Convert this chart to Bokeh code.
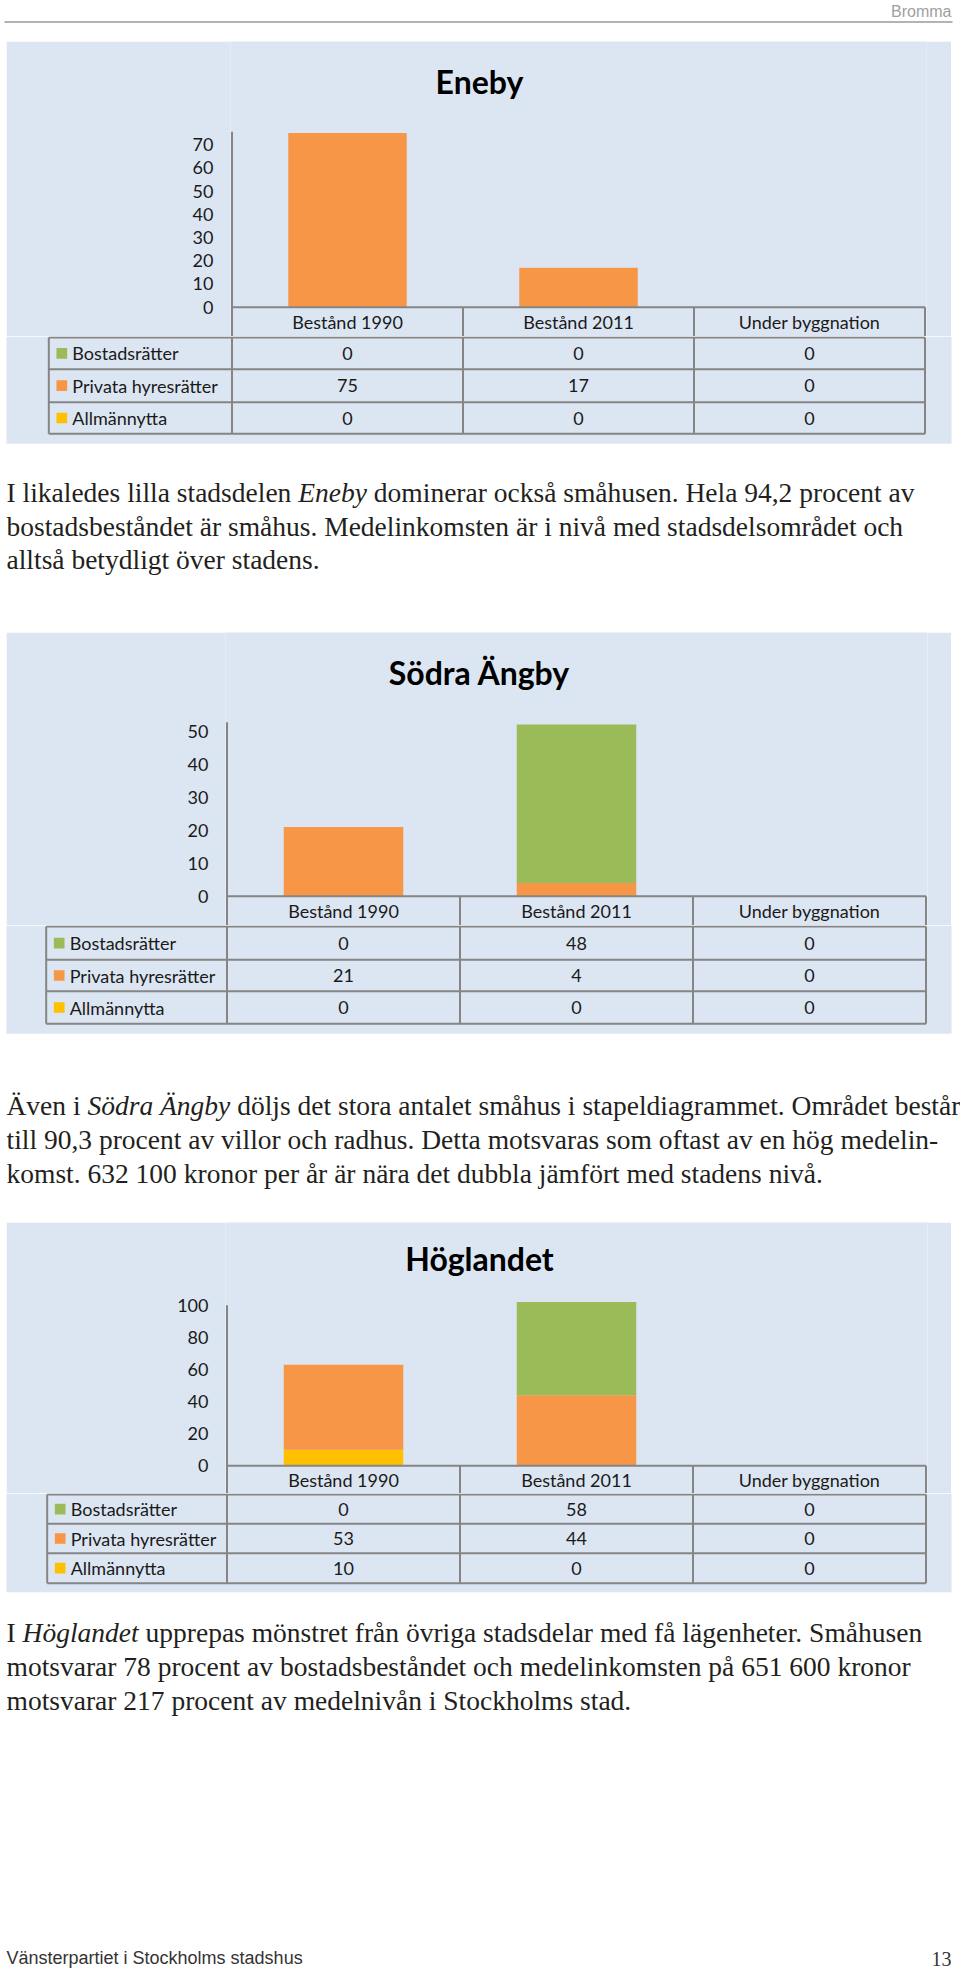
from bokeh.plotting import figure
from bokeh.layouts import column, row
from bokeh.models import Range1d, FixedTicker, ColumnDataSource, Spacer
from bokeh.core.properties import value
from bokeh.embed import file_html
from bokeh.resources import INLINE

# ---------------- data ----------------
categories = ["Bestånd 1990", "Bestånd 2011", "Under byggnation"]
series_names = ["Bostadsrätter", "Privata hyresrätter", "Allmännytta"]
series_colors = ["#9bbb59", "#f79646", "#ffc000"]

eneby_title = "Eneby"
eneby_bostadsratter = [0, 0, 0]
eneby_privata = [75, 17, 0]
eneby_allmannytta = [0, 0, 0]
eneby_ticks = [0, 10, 20, 30, 40, 50, 60, 70]

sodra_title = "Södra Ängby"
sodra_bostadsratter = [0, 48, 0]
sodra_privata = [21, 4, 0]
sodra_allmannytta = [0, 0, 0]
sodra_ticks = [0, 10, 20, 30, 40, 50]

hog_title = "Höglandet"
hog_bostadsratter = [0, 58, 0]
hog_privata = [53, 44, 0]
hog_allmannytta = [10, 0, 0]
hog_ticks = [0, 20, 40, 60, 80, 100]

header_label = "Bromma"
footer_left = "Vänsterpartiet i Stockholms stadshus"
footer_right = "13"

para1 = [
    [("I likaledes lilla stadsdelen ", False), ("Eneby", True),
     (" dominerar också småhusen. Hela 94,2 procent av", False)],
    [("bostadsbeståndet är småhus. Medelinkomsten är i nivå med stadsdelsområdet och", False)],
    [("alltså betydligt över stadens.", False)],
]
para2 = [
    [("Även i ", False), ("Södra Ängby", True),
     (" döljs det stora antalet småhus i stapeldiagrammet. Området består", False)],
    [("till 90,3 procent av villor och radhus. Detta motsvaras som oftast av en hög medelin-", False)],
    [("komst. 632 100 kronor per år är nära det dubbla jämfört med stadens nivå.", False)],
]
para3 = [
    [("I ", False), ("Höglandet", True),
     (" upprepas mönstret från övriga stadsdelar med få lägenheter. Småhusen", False)],
    [("motsvarar 78 procent av bostadsbeståndet och medelinkomsten på 651 600 kronor", False)],
    [("motsvarar 217 procent av medelnivån i Stockholms stad.", False)],
]

# ---------------- style ----------------
PAGE_W = 960
PANEL_L = 6
PANEL_R = 951
PANEL = "#dce6f2"
LINEC = "#858585"
TXT = "#1a1a1a"
BODY = "#231f20"
SANS = "Lato"
SERIF = "Liberation Serif"
BODY_SIZE = 27.5
LINE_GAP = 33.8
LBL = "18px"
TEXT_X = 6

# Times-metric widths (for placing italic runs)
_lo = "abcdefghijklmnopqrstuvwxyz"
_up = "ABCDEFGHIJKLMNOPQRSTUVWXYZ"
TR = dict(zip(_lo, [444,500,444,500,444,333,500,500,278,278,500,278,778,500,500,500,500,333,389,278,500,500,722,500,500,444]))
TR.update(zip(_up, [722,667,667,722,611,556,722,722,333,389,722,611,889,722,722,556,722,667,556,611,722,722,944,722,722,611]))
TI = dict(zip(_lo, [500,500,444,500,444,278,500,500,278,278,444,278,722,500,500,500,500,389,389,278,500,444,667,444,444,389]))
TI.update(zip(_up, [611,611,667,722,611,611,722,722,333,444,667,556,833,667,722,611,722,611,500,556,722,611,833,611,556,556]))
for t in (TR, TI):
    t.update({" ": 250, ",": 250, ".": 250, "-": 333})
    t.update({d: 500 for d in "0123456789"})
ACC = {"ä": "a", "å": "a", "ö": "o", "Ä": "A", "Å": "A", "Ö": "O"}


def text_w(s, italic, size):
    tbl = TI if italic else TR
    return sum(tbl.get(ACC.get(c, c), 500) for c in s) * size / 1000.0


def base_fig(h, bg="white"):
    p = figure(width=PAGE_W, height=h, x_range=Range1d(0, PAGE_W), y_range=Range1d(h, 0),
               output_backend="svg", toolbar_location=None,
               x_axis_location=None, y_axis_location=None,
               min_border=0, background_fill_color=bg, border_fill_color=bg,
               outline_line_color=None, frame_align=False)
    p.grid.visible = False
    return p


def draw_para(p, lines, top, baselines):
    for segs, b in zip(lines, baselines):
        x = float(TEXT_X)
        for s, it in segs:
            st = s.lstrip(" ")
            x += (len(s) - len(st)) * 250 * BODY_SIZE / 1000.0
            p.text(x=[x], y=[b - top], text=[st], text_font=value(SERIF),
                   text_font_size=f"{BODY_SIZE}px", text_color=BODY,
                   text_baseline="alphabetic", text_align="left",
                   text_font_style="italic" if it else "normal")
            x += text_w(st, it, BODY_SIZE)


def chart_fig(title, bost, priv, allm, ticks, top, bottom, zero, k, ymax, col_left, colw, title_base):
    h = bottom - top
    w = PANEL_R - PANEL_L
    pad = 1.5
    fl = col_left - pad - PANEL_L
    fr = col_left + 3 * colw + pad - PANEL_L
    y_end = (zero - top) / k
    y_start = -(bottom - zero) / k
    p = figure(width=w, height=h,
               x_range=Range1d(-pad / colw, len(categories) + pad / colw),
               y_range=Range1d(y_start, y_end),
               output_backend="svg", toolbar_location=None,
               x_axis_location=None, y_axis_location="left",
               min_border_left=int(round(fl)), min_border_right=int(round(w - fr)),
               min_border_top=0, min_border_bottom=0,
               background_fill_color=PANEL, border_fill_color=PANEL,
               outline_line_color=None, frame_align=False)
    p.grid.visible = False
    ax = p.yaxis[0]
    ax.ticker = FixedTicker(ticks=ticks)
    ax.bounds = (0, ymax)
    ax.axis_line_color = None
    ax.major_tick_line_color = None
    ax.minor_tick_line_color = None
    ax.major_tick_out = 0
    ax.major_tick_in = 0
    ax.major_label_standoff = 17
    ax.major_label_text_font = SANS
    ax.major_label_text_font_size = LBL
    ax.major_label_text_color = TXT

    xs = [i + 0.5 for i in range(len(categories))]
    src = ColumnDataSource(dict(x=xs, allm=allm, priv=priv, bost=bost))
    p.vbar_stack(["allm", "priv", "bost"], x="x", width=0.513, source=src,
                 color=[series_colors[2], series_colors[1], series_colors[0]], line_color=None)

    n = len(categories)
    p.segment(x0=[0], y0=[y_start], x1=[0], y1=[ymax], line_color=LINEC, line_width=2)
    p.segment(x0=list(range(1, n + 1)), y0=[y_start] * n, x1=list(range(1, n + 1)), y1=[0] * n,
              line_color=LINEC, line_width=2)
    p.segment(x0=[0], y0=[0], x1=[n], y1=[0], line_color=LINEC, line_width=2)
    p.text(x=xs, y=[y_start / 2] * n, text=categories, text_font=value(SANS),
           text_font_size=LBL, text_color=TXT, text_align="center", text_baseline="middle")
    p.text(x=[(479 - col_left) / colw], y=[(zero - title_base) / k], text=[title],
           text_font=value(SANS), text_font_size="32px", text_font_style="bold",
           text_color="#000000", text_align="center", text_baseline="alphabetic")
    return row(Spacer(width=PANEL_L, height=h), p, spacing=0)


def table_fig(bost, priv, allm, top, bottom, panel_bottom, L, col_left, colw, rows, para, baselines, footer=False):
    h = bottom - top
    p = base_fig(h)
    p.quad(left=[PANEL_L], right=[PANEL_R], top=[0], bottom=[panel_bottom - top], color=PANEL, line_color=None)
    n = len(categories)
    col_right = col_left + n * colw
    ys = [max(r - top, 1) for r in rows]
    p.segment(x0=[L] * len(ys), y0=ys, x1=[col_right] * len(ys), y1=ys,
              line_color=LINEC, line_width=2)
    vx = [L] + [col_left + i * colw for i in range(n + 1)]
    p.segment(x0=vx, y0=[ys[0]] * len(vx), x1=vx, y1=[ys[-1]] * len(vx),
              line_color=LINEC, line_width=2)
    centers = [(ys[i] + ys[i + 1]) / 2 for i in range(len(ys) - 1)]
    p.rect(x=[L + 13] * 3, y=centers, width=10.7, height=10.7, color=series_colors, line_color=None)
    p.text(x=[L + 23.5] * 3, y=centers, text=series_names, text_font=value(SANS),
           text_font_size=LBL, text_color=TXT, text_align="left", text_baseline="middle")
    vals = [bost, priv, allm]
    tx, ty, tt = [], [], []
    for ri, rvals in enumerate(vals):
        for ci, v in enumerate(rvals):
            tx.append(col_left + (ci + 0.5) * colw)
            ty.append(centers[ri])
            tt.append(str(v))
    p.text(x=tx, y=ty, text=tt, text_font=value(SANS), text_font_size=LBL,
           text_color=TXT, text_align="center", text_baseline="middle")
    draw_para(p, para, top, baselines)
    if footer:
        p.text(x=[TEXT_X], y=[1957 - top], text=[footer_left], text_font=value("Liberation Sans"),
               text_font_size="18px", text_color="#333333", text_align="left", text_baseline="middle")
        p.text(x=[951], y=[1958 - top], text=[footer_right], text_font=value(SERIF),
               text_font_size="20px", text_color="#333333", text_align="right", text_baseline="middle")
    return p


# header
hdr = base_fig(41)
hdr.text(x=[951], y=[10.5], text=[header_label], text_font=value("Liberation Sans"),
         text_font_size="16px", text_color="#a0a0a0", text_align="right", text_baseline="alphabetic")
hdr.segment(x0=[4], y0=[21.4], x1=[952], y1=[21.4], line_color="#9a9a9a", line_width=1.5)

c1 = chart_fig(eneby_title, eneby_bostadsratter, eneby_privata, eneby_allmannytta, eneby_ticks,
               41, 336, 306.7, 2.323, 75.5, 231.5, 231.0, 81.0)
t1 = table_fig(eneby_bostadsratter, eneby_privata, eneby_allmannytta, 336, 632, 443.3,
               48.3, 231.5, 231.0, [336, 368.7, 401.7, 433.3], para1,
               [491.7, 491.7 + LINE_GAP, 491.7 + 2 * LINE_GAP])

c2 = chart_fig(sodra_title, sodra_bostadsratter, sodra_privata, sodra_allmannytta, sodra_ticks,
               632, 925, 895.7, 3.30, 52.7, 226.5, 233.0, 671.7)
t2 = table_fig(sodra_bostadsratter, sodra_privata, sodra_allmannytta, 925, 1222, 1033.3,
               45.7, 226.5, 233.0, [925, 959.3, 990.7, 1023.3], para2,
               [1105, 1105 + LINE_GAP, 1105 + 2 * LINE_GAP])

c3 = chart_fig(hog_title, hog_bostadsratter, hog_privata, hog_allmannytta, hog_ticks,
               1222, 1493, 1465.3, 1.605, 100, 226.5, 233.0, 1258.3)
t3 = table_fig(hog_bostadsratter, hog_privata, hog_allmannytta, 1493, 1970, 1591.7,
               46.7, 226.5, 233.0, [1493, 1523.3, 1552.7, 1582.7], para3,
               [1632, 1632 + LINE_GAP, 1632 + 2 * LINE_GAP], footer=True)

page = column(hdr, c1, t1, c2, t2, c3, t3, spacing=0)
open("out.html", "w").write(file_html(page, INLINE))
